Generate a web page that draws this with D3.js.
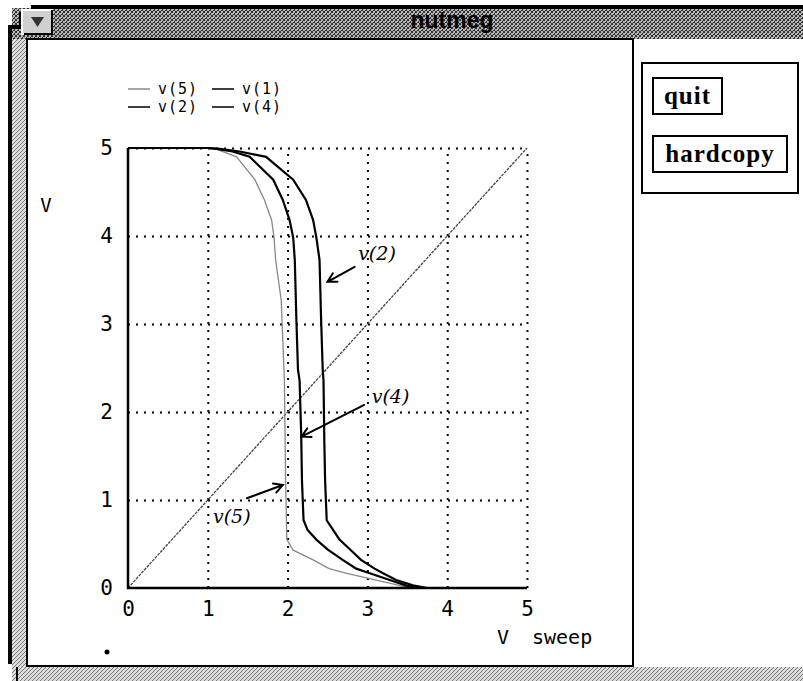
<!DOCTYPE html>
<html lang="en">
<head>
  <meta charset="UTF-8">
  <title>nutmeg</title>
  <script src="https://d3js.org/d3.v7.min.js"></script>
  <style>
    body { margin: 0; background: #fff; }
    svg { display: block; }
    .mono { font-family: "DejaVu Sans Mono", monospace; fill: #000; }
    .tick text { font-family: "DejaVu Sans Mono", monospace; font-size: 21px; fill: #000; }
    .grid line { stroke: #000; stroke-width: 2px; stroke-dasharray: 2,6; }
    .hand { font-family: "DejaVu Serif", serif; font-style: italic; font-size: 19px; fill: #000; }
  </style>
</head>
<body>
  <svg width="803" height="681"></svg>
  <script>
    // values
    const xTicks = [0, 1, 2, 3, 4, 5];
    const yTicks = [0, 1, 2, 3, 4, 5];

    const v1 = [[0, 0], [5, 5]];
    const v5 = [[0, 5], [1.0, 5], [1.1, 4.99], [1.36, 4.9], [1.59, 4.64], [1.71, 4.41], [1.8, 4.18],
      [1.83, 3.985], [1.85, 3.73], [1.92, 3.27], [1.96, 2.36], [1.975, 1.22], [1.99, 0.55],
      [2.07, 0.43], [2.32, 0.32], [2.52, 0.22], [2.73, 0.17], [3.11, 0.09], [3.4, 0.03],
      [3.55, 0], [5, 0]];
    const v4 = [[0, 5], [1.0, 5], [1.11, 4.99], [1.31, 4.96], [1.525, 4.9], [1.82, 4.64], [1.94, 4.41],
      [2.025, 4.18], [2.07, 3.985], [2.09, 3.73], [2.11, 3.05], [2.13, 2.48], [2.15, 2.36],
      [2.17, 1.76], [2.18, 1.22], [2.2, 0.77], [2.25, 0.66], [2.36, 0.55], [2.5, 0.44],
      [2.69, 0.32], [2.86, 0.22], [3.02, 0.17], [3.28, 0.09], [3.48, 0.03], [3.62, 0], [5, 0]];
    const v2 = [[0, 5], [1.0, 5], [1.15, 4.99], [1.4, 4.96], [1.73, 4.9], [2.07, 4.64], [2.23, 4.41],
      [2.32, 4.18], [2.36, 3.985], [2.4, 3.73], [2.42, 3.05], [2.44, 2.48], [2.45, 2.36],
      [2.46, 1.68], [2.47, 1.22], [2.49, 0.77], [2.57, 0.66], [2.65, 0.55], [2.78, 0.44],
      [2.92, 0.32], [3.09, 0.22], [3.19, 0.17], [3.36, 0.09], [3.57, 0.03], [3.75, 0], [5, 0]];

    const legendNames = ["v(5)", "v(1)", "v(2)", "v(4)"];

    // hand-written notes: label position, arrow tail, arrow tip (data units)
    const notes = [
      { text: "v(2)", at: [3.12, 3.8], from: [2.84, 3.65], to: [2.5, 3.48] },
      { text: "v(4)", at: [3.29, 2.17], from: [2.96, 2.08], to: [2.175, 1.72] },
      { text: "v(5)", at: [1.3, 0.81], from: [1.49, 1.02], to: [1.94, 1.17] }
    ];

    const svg = d3.select("svg");

    // stipple fills for the window frame
    const defs = svg.append("defs");
    const pd = defs.append("pattern").attr("id", "stipDark")
      .attr("width", 4).attr("height", 4).attr("patternUnits", "userSpaceOnUse");
    pd.append("rect").attr("width", 4).attr("height", 4).attr("fill", "#b4b4b4");
    [[0, 0], [2, 1], [1, 2], [3, 3], [3, 0], [0, 3], [2, 2]].forEach(p =>
      pd.append("rect").attr("x", p[0]).attr("y", p[1]).attr("width", 1).attr("height", 1).attr("fill", "#333"));
    const pl = defs.append("pattern").attr("id", "stipLight")
      .attr("width", 4).attr("height", 4).attr("patternUnits", "userSpaceOnUse");
    pl.append("rect").attr("width", 4).attr("height", 4).attr("fill", "#dcdcdc");
    [[0, 0], [2, 2], [3, 1], [1, 3]].forEach(p =>
      pl.append("rect").attr("x", p[0]).attr("y", p[1]).attr("width", 1).attr("height", 1).attr("fill", "#777"));

    // window frame
    svg.append("rect").attr("x", 12).attr("y", 8).attr("width", 791).attr("height", 31).attr("fill", "url(#stipDark)");
    svg.append("rect").attr("x", 12).attr("y", 39).attr("width", 16).attr("height", 629).attr("fill", "url(#stipLight)");
    svg.append("rect").attr("x", 12).attr("y", 667).attr("width", 791).attr("height", 14).attr("fill", "url(#stipLight)");
    svg.append("path").attr("d", "M803,7H33V14H21V27H10V664")
      .attr("fill", "none").attr("stroke", "#000").attr("stroke-width", 4);
    svg.append("line").attr("x1", 17).attr("x2", 17).attr("y1", 667).attr("y2", 681)
      .attr("stroke", "#000").attr("stroke-width", 2);

    // menu button
    svg.append("rect").attr("x", 22).attr("y", 10).attr("width", 30).attr("height", 24)
      .attr("fill", "#d0d0d0").attr("stroke", "#fff").attr("stroke-width", 2);
    svg.append("path").attr("d", "M24,34H52V10").attr("fill", "none").attr("stroke", "#000").attr("stroke-width", 2);
    svg.append("path").attr("d", "M31,17H44L37.5,27Z").attr("fill", "#333");

    svg.append("text").attr("x", 452).attr("y", 28).attr("text-anchor", "middle")
      .style("font-family", "'Liberation Sans', Arial, sans-serif").style("font-weight", "bold")
      .style("font-size", "23px").text("nutmeg");

    // plot panel
    svg.append("rect").attr("x", 27).attr("y", 39).attr("width", 606).attr("height", 627)
      .attr("fill", "#fff").attr("stroke", "#000").attr("stroke-width", 2);

    // button panel
    svg.append("rect").attr("x", 642).attr("y", 63).attr("width", 156).attr("height", 130)
      .attr("fill", "#fff").attr("stroke", "#000").attr("stroke-width", 2);
    const buttons = [{ label: "quit", y: 78, w: 69 }, { label: "hardcopy", y: 136, w: 134 }];
    buttons.forEach(b => {
      svg.append("rect").attr("x", 653).attr("y", b.y).attr("width", b.w).attr("height", 36)
        .attr("fill", "#fff").attr("stroke", "#000").attr("stroke-width", 2);
      svg.append("text").attr("x", 653 + b.w / 2).attr("y", b.y + 26).attr("text-anchor", "middle")
        .style("font-family", "'Liberation Serif', 'Times New Roman', serif").style("font-weight", "bold")
        .style("font-size", "25px").style("letter-spacing", "1px").text(b.label);
    });

    // plot
    const x = d3.scaleLinear().domain([0, 5]).range([128, 527]);
    const y = d3.scaleLinear().domain([0, 5]).range([588, 148]);

    svg.append("g").attr("class", "grid")
      .attr("transform", "translate(0,588)")
      .call(d3.axisBottom(x).tickValues(xTicks.slice(1)).tickSize(-440).tickFormat(""))
      .call(g => g.select(".domain").remove());
    svg.append("g").attr("class", "grid")
      .attr("transform", "translate(128,0)")
      .call(d3.axisLeft(y).tickValues(yTicks.slice(1)).tickSize(-399).tickFormat(""))
      .call(g => g.select(".domain").remove());

    const line = d3.line().x(d => x(d[0])).y(d => y(d[1]));
    const series = [
      { name: "v(1)", data: v1, color: "#444", width: 1.3, dash: "3,1" },
      { name: "v(5)", data: v5, color: "#888", width: 1.3, dash: null },
      { name: "v(4)", data: v4, color: "#000", width: 2.2, dash: null },
      { name: "v(2)", data: v2, color: "#000", width: 2.2, dash: null }
    ];
    svg.append("g").selectAll("path").data(series).join("path")
      .attr("d", d => line(d.data))
      .attr("fill", "none")
      .attr("stroke", d => d.color)
      .attr("stroke-width", d => d.width)
      .attr("stroke-dasharray", d => d.dash);

    // solid axis lines, left and bottom
    svg.append("path").attr("d", `M${x(0)},${y(5)}V${y(0)}H${x(5)}`)
      .attr("fill", "none").attr("stroke", "#000").attr("stroke-width", 2.5);

    svg.append("g").attr("transform", "translate(0,588)")
      .call(d3.axisBottom(x).tickValues(xTicks).tickSize(0).tickPadding(8).tickFormat(d3.format("d")))
      .call(g => g.select(".domain").remove())
      .call(g => g.selectAll("text").attr("dy", "0.95em"));
    svg.append("g").attr("transform", "translate(128,0)")
      .call(d3.axisLeft(y).tickValues(yTicks).tickSize(0).tickPadding(15).tickFormat(d3.format("d")))
      .call(g => g.select(".domain").remove());

    svg.append("text").attr("class", "mono").attr("x", 46).attr("y", 212)
      .attr("text-anchor", "middle").style("font-size", "19px").text("V");
    svg.append("text").attr("class", "mono").attr("x", 503).attr("y", 644)
      .attr("text-anchor", "middle").style("font-size", "20px").text("V");
    svg.append("text").attr("class", "mono").attr("x", 532).attr("y", 644)
      .style("font-size", "20px").text("sweep");
    svg.append("circle").attr("cx", 107).attr("cy", 652).attr("r", 2.5).attr("fill", "#000");

    // legend, two columns
    const legend = svg.append("g");
    const byName = new Map(series.map(s => [s.name, s]));
    legendNames.forEach((n, i) => {
      const col = i % 2, row = Math.floor(i / 2);
      const lx = 128 + col * 84, ly = 89 + row * 18;
      const s = byName.get(n);
      legend.append("line").attr("x1", lx).attr("x2", lx + 22).attr("y1", ly).attr("y2", ly)
        .attr("stroke", s.name === "v(1)" ? "#000" : s.color).attr("stroke-width", 1.5);
      legend.append("text").attr("class", "mono").attr("x", lx + 30).attr("y", ly + 5)
        .style("font-size", "15px").style("letter-spacing", "1px").text(n);
    });

    // hand-drawn notes
    const hand = svg.append("g");
    notes.forEach(n => {
      hand.append("text").attr("class", "hand").attr("x", x(n.at[0])).attr("y", y(n.at[1]) + 6)
        .attr("text-anchor", "middle").text(n.text);
      const x0 = x(n.from[0]), y0 = y(n.from[1]), x1 = x(n.to[0]), y1 = y(n.to[1]);
      const a = Math.atan2(y1 - y0, x1 - x0);
      const head = 10;
      hand.append("path")
        .attr("d", `M${x0},${y0}L${x1},${y1}` +
          `M${x1 - head * Math.cos(a - 0.5)},${y1 - head * Math.sin(a - 0.5)}L${x1},${y1}` +
          `L${x1 - head * Math.cos(a + 0.5)},${y1 - head * Math.sin(a + 0.5)}`)
        .attr("fill", "none").attr("stroke", "#000").attr("stroke-width", 2).attr("stroke-linecap", "round");
    });
  </script>
</body>
</html>
